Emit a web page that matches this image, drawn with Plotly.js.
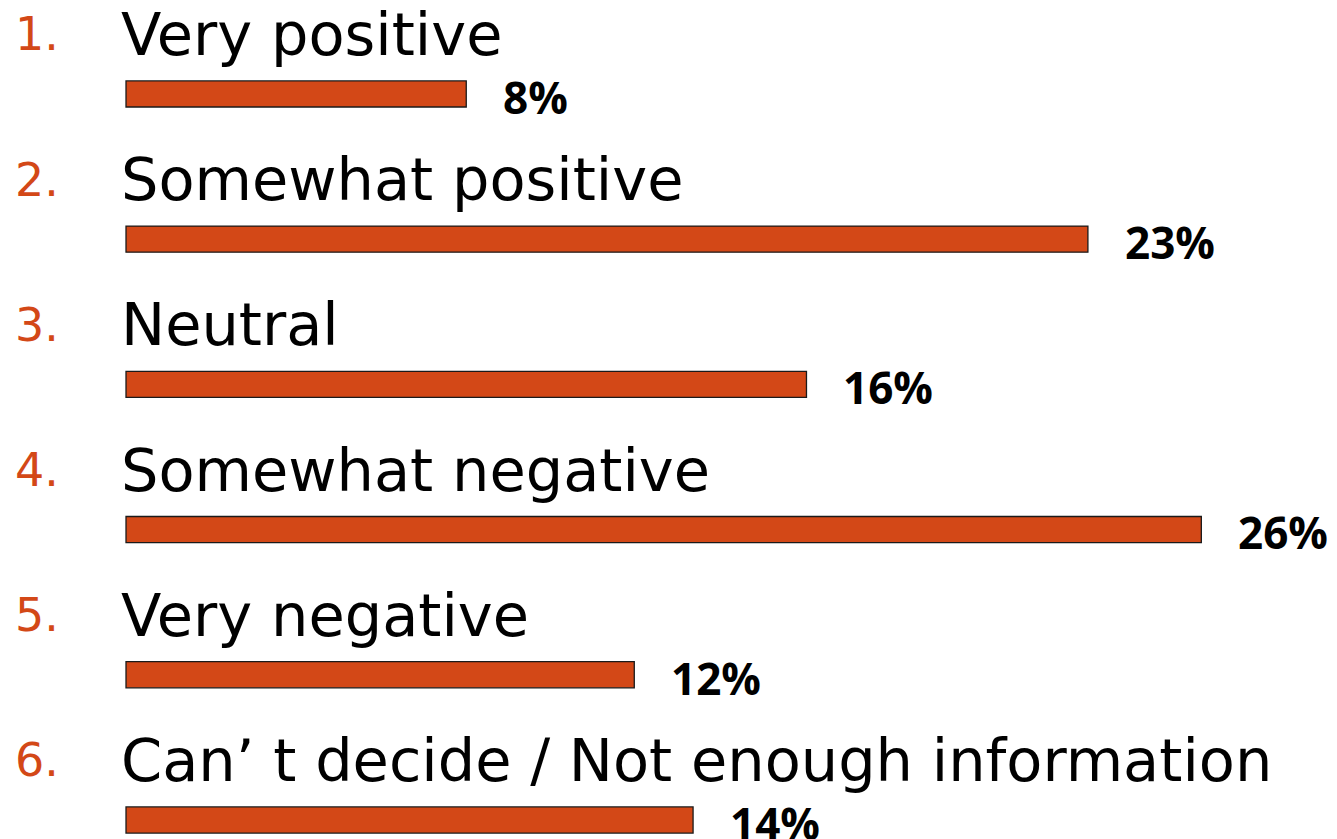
<!DOCTYPE html>
<html><head><meta charset="utf-8">
<script src="https://cdn.plot.ly/plotly-3.0.1.min.js"></script>
<style>html,body{margin:0;padding:0;background:#fff}#chart{width:1337px;height:839px}</style>
</head><body><div id="chart"></div>
<script>
const numbers = ["1.", "2.", "3.", "4.", "5.", "6."];
const categories = ["Very positive", "Somewhat positive", "Neutral", "Somewhat negative", "Very negative", "Can\u2019 t decide / Not enough information"];
const values = [8.1, 22.9, 16.2, 25.6, 12.1, 13.5];
const valueLabels = ["8%", "23%", "16%", "26%", "12%", "14%"];

const ORANGE = "#D34817";
const idx = categories.map((_, i) => i);

const trace = {
  type: "bar", orientation: "h",
  x: values, y: idx, width: 0.18,
  marker: {color: ORANGE, line: {color: "#1a1a1a", width: 1.3}},
  hoverinfo: "skip"
};

const annotations = [];
idx.forEach(i => {
  annotations.push({x: -2.7, y: i - 0.41, xref: "x", yref: "y", text: numbers[i], showarrow: false,
    xanchor: "left", yanchor: "middle", font: {family: "DejaVu Sans, sans-serif", size: 46, color: ORANGE}});
  annotations.push({x: -0.17, y: i - 0.41, xref: "x", yref: "y", text: categories[i], showarrow: false,
    xanchor: "left", yanchor: "middle", font: {family: "DejaVu Sans, sans-serif", size: 59, color: "#000"}});
  annotations.push({x: values[i], y: i + 0.02, xref: "x", yref: "y", text: "<b>" + valueLabels[i] + "</b>", showarrow: false,
    xanchor: "left", xshift: 35, yanchor: "middle", font: {family: "Open Sans, sans-serif", size: 44, color: "#000"}});
});

const layout = {
  width: 1337, height: 839,
  margin: {l: 0, r: 0, t: 0, b: 0},
  paper_bgcolor: "#fff", plot_bgcolor: "#fff",
  showlegend: false,
  xaxis: {range: [-3, 28.83], visible: false, fixedrange: true},
  yaxis: {range: [5.131, -0.647], visible: false, fixedrange: true},
  annotations: annotations
};

Plotly.newPlot("chart", [trace], layout, {displayModeBar: false, staticPlot: true});
</script>
</body></html>
